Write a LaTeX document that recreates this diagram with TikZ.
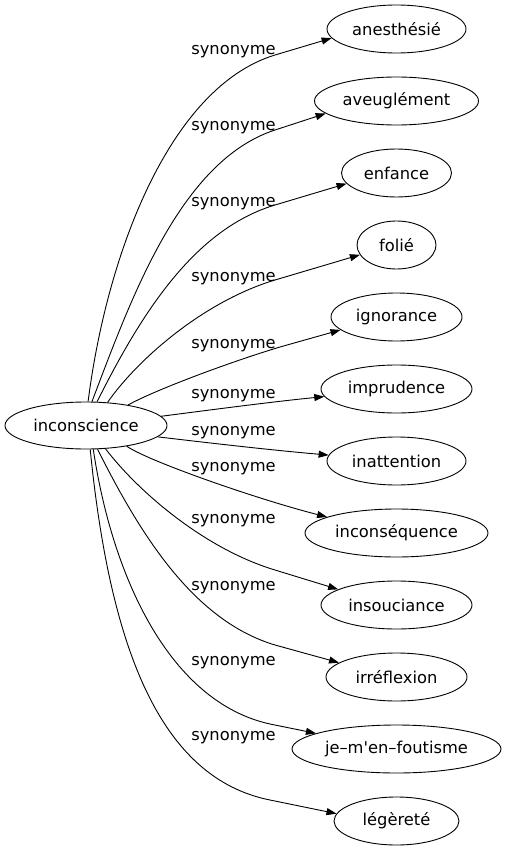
\documentclass[tikz,border=0pt]{standalone}
\usepackage{fontspec}
\setmainfont{DejaVu Sans}
\usetikzlibrary{shapes.geometric,arrows.meta}
\begin{document}
\begin{tikzpicture}[x=1pt,y=-1pt,
  every node/.style={font=\fontsize{16.3}{19}\selectfont},
  oval/.style={ellipse,draw,line width=0.9pt,inner sep=0pt,minimum height=48pt},
  lbl/.style={inner sep=0pt,anchor=base},
  edge/.style={line width=0.9pt,-{Triangle[length=10pt,width=7pt]}}]
\useasboundingbox (0,0) rectangle (506,851);
\node[oval,minimum width=162pt,minimum height=47pt] (c) at (86,425.5) {inconscience};
\node[oval,minimum width=139pt] (t1) at (396.5,29) {anesthésié};
\node[oval,minimum width=164pt] (t2) at (396.5,101) {aveuglément};
\node[oval,minimum width=110pt] (t3) at (396.5,173) {enfance};
\node[oval,minimum width=79pt] (t4) at (396.5,245) {folié};
\node[oval,minimum width=131pt] (t5) at (396.5,317) {ignorance};
\node[oval,minimum width=151pt] (t6) at (396.5,389) {imprudence};
\node[oval,minimum width=139pt] (t7) at (396.5,461) {inattention};
\node[oval,minimum width=183pt] (t8) at (396.5,533) {inconséquence};
\node[oval,minimum width=151pt] (t9) at (396.5,605) {insouciance};
\node[oval,minimum width=141pt] (t10) at (396.5,677) {irréflexion};
\node[oval,minimum width=209pt] (t11) at (396.5,749) {je–m\textquotesingle en–foutisme};
\node[oval,minimum width=125pt] (t12) at (396.5,821) {légèreté};
\node[lbl] (l1) at (233.5,54.5) {synonyme};
\node[lbl] (l2) at (233.5,130) {synonyme};
\node[lbl] (l3) at (233.5,206.5) {synonyme};
\node[lbl] (l4) at (233.5,281.5) {synonyme};
\node[lbl] (l5) at (233.5,348) {synonyme};
\node[lbl] (l6) at (233.5,398) {synonyme};
\node[lbl] (l7) at (233.5,435) {synonyme};
\node[lbl] (l8) at (233.5,471) {synonyme};
\node[lbl] (l9) at (233.5,523) {synonyme};
\node[lbl] (l10) at (233.5,590) {synonyme};
\node[lbl] (l11) at (233.5,665) {synonyme};
\node[lbl] (l12) at (233.5,740) {synonyme};
\draw[edge] (c.85) .. controls (107,253) and (170,87) .. (275,55) -- (t1.188);
\draw[edge] (c.76) .. controls (131,299) and (180,161) .. (275,130) -- (t2.190);
\draw[edge] (c.65) .. controls (142,312) and (195,229) .. (275,205) -- (t3.192);
\draw[edge] (c.47) .. controls (138.5,358) and (205,301) .. (275,280) -- (t4.195);
\draw[edge] (c.26) .. controls (155,390) and (230,362) .. (280,347) -- (t5.193);
\draw[edge] (c.7) .. controls (210,410) and (270,402) .. (t6.186);
\draw[edge] (c.-9) .. controls (210,443) and (270,450) .. (t7.175);
\draw[edge] (c.-27) .. controls (150,462) and (260,500) .. (t8.167);
\draw[edge] (c.-50) .. controls (138.5,492) and (205,549) .. (275,570) -- (t9.165);
\draw[edge] (c.-64) .. controls (142,538) and (195,621) .. (275,645) -- (t10.166);
\draw[edge] (c.-73) .. controls (112.5,578) and (170,702) .. (270,724) -- (t11.169);
\draw[edge] (c.-80) .. controls (110,648) and (160,778) .. (270,800) -- (t12.173);
\end{tikzpicture}
\end{document}
